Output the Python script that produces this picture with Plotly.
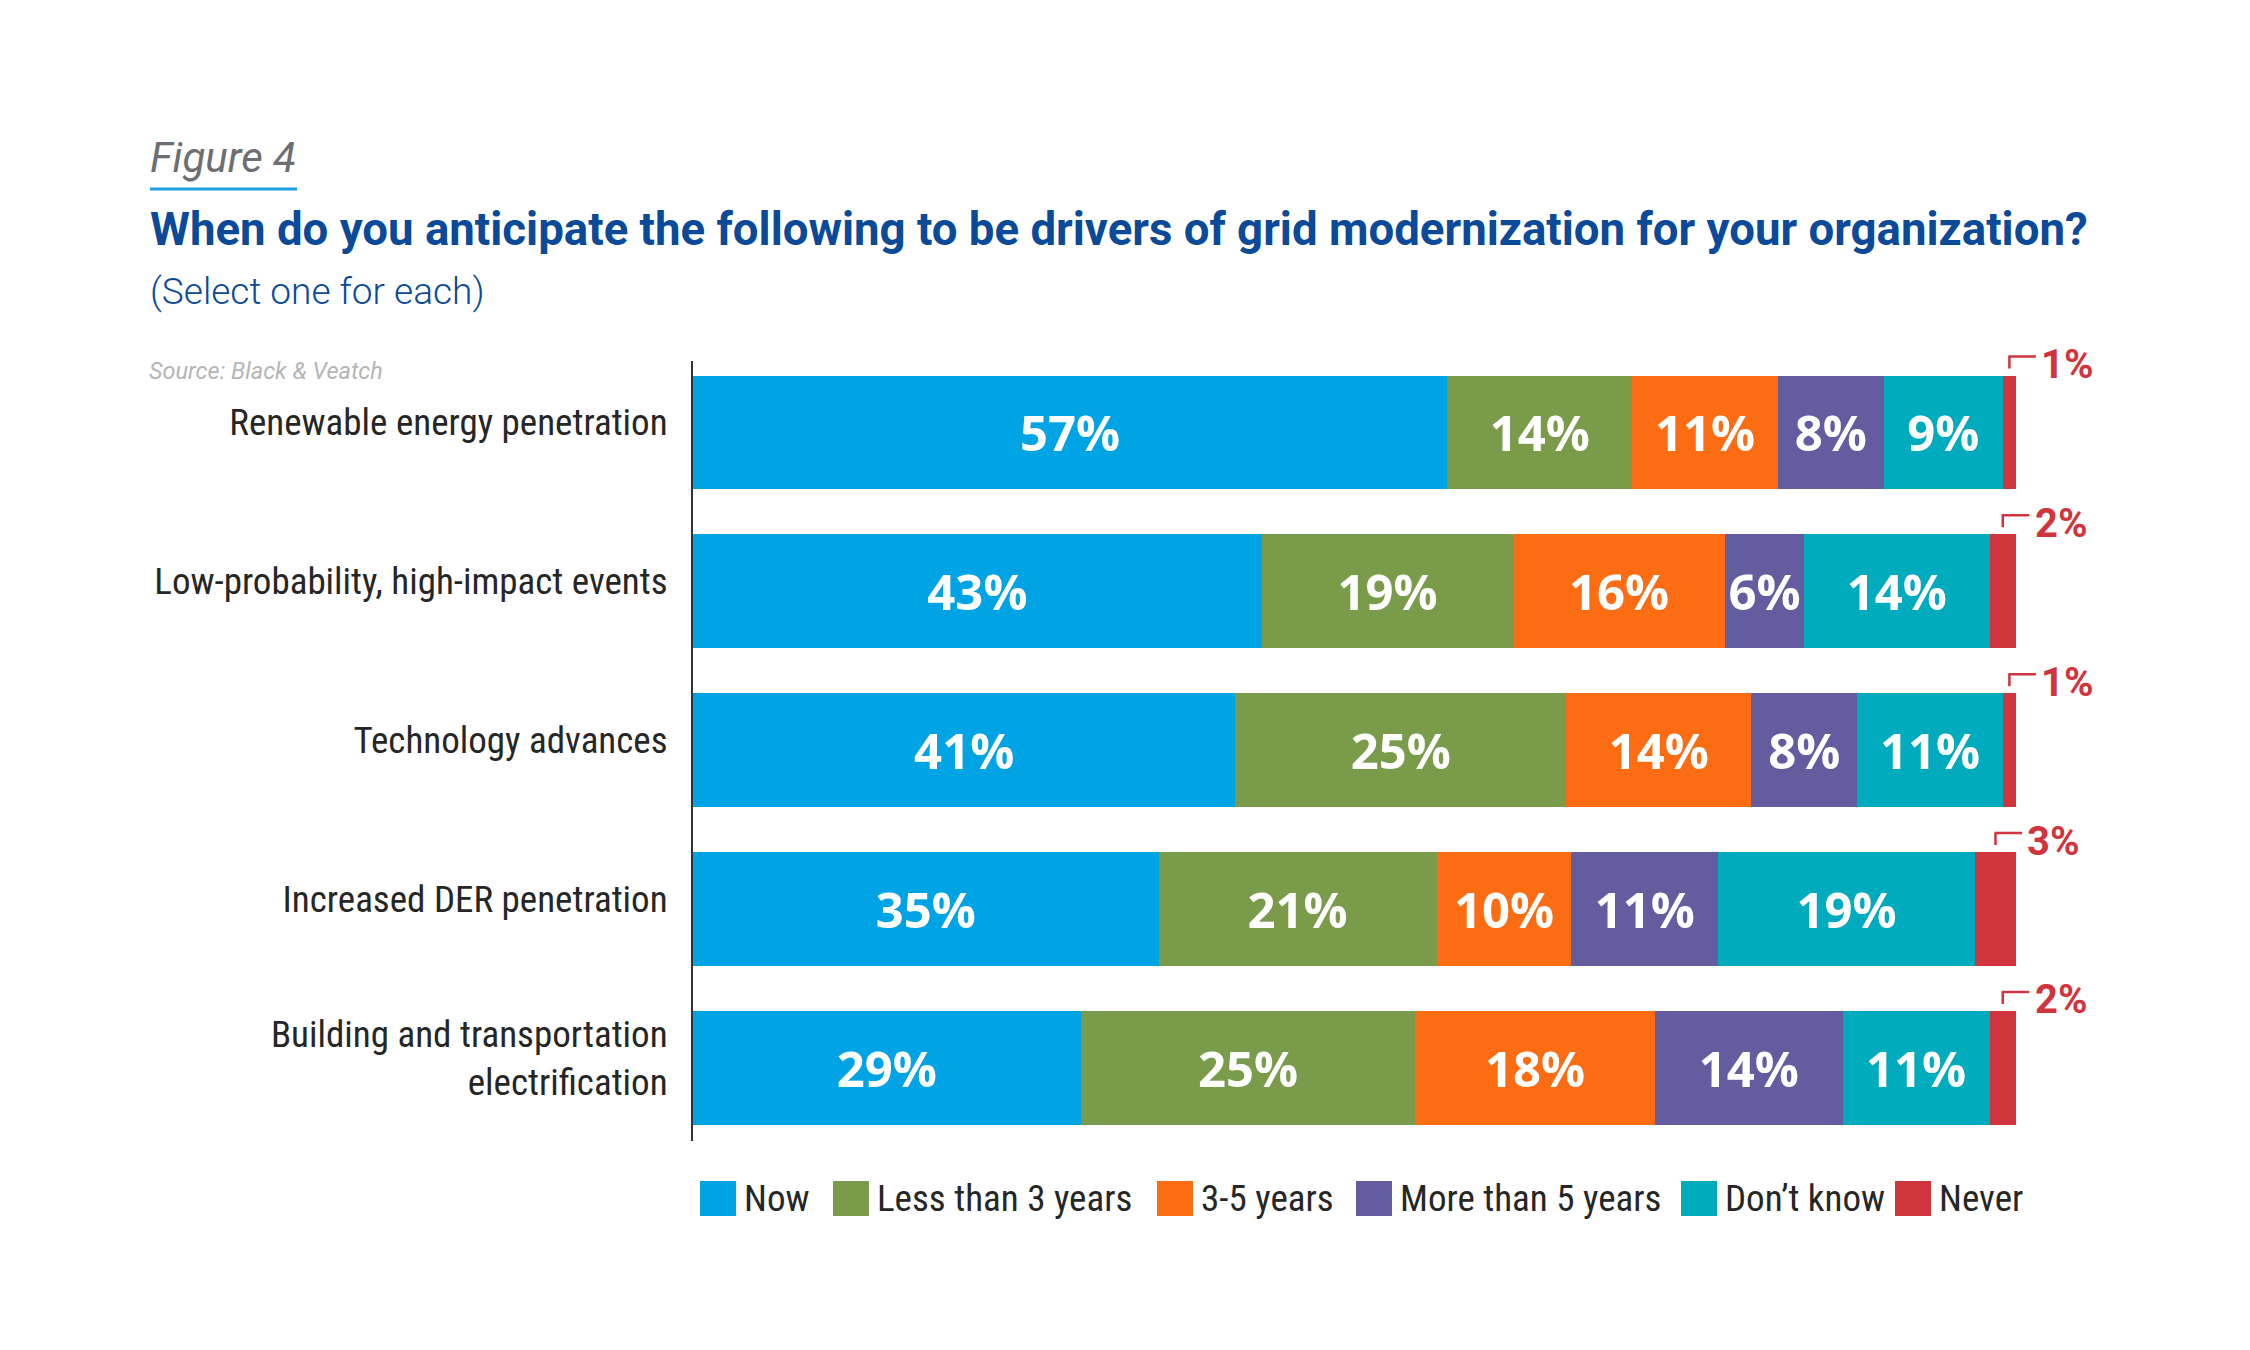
import plotly.graph_objects as go

# ---------------- data ----------------
categories = [
    "Renewable energy penetration",
    "Low-probability, high-impact events",
    "Technology advances",
    "Increased DER penetration",
    "Building and transportation<br>electrification",
]
series_names = ["Now", "Less than 3 years", "3-5 years", "More than 5 years", "Don\u2019t know", "Never"]
now_vals = [57, 43, 41, 35.2, 29.3]
lt3_vals = [14, 19, 25, 21.0, 25.3]
y35_vals = [11, 16, 14, 10.2, 18.1]
gt5_vals = [8, 6, 8, 11.1, 14.2]
dk_vals = [9, 14, 11, 19.4, 11.1]
never_vals = [1, 2, 1, 3.1, 2.0]

colors = ["#00a4e4", "#7a9c4a", "#fb6c13", "#635c9f", "#00abbd", "#d0343c"]

# ---------------- layout geometry ----------------
W, H = 2250, 1350
L, R, T, B = 693, 2016, 361, 1141


def px(x):
    return (x - L) / (R - L)


def py(y):
    return (B - y) / (B - T)


COND = "Liberation Sans Narrow, Roboto Condensed, Arial Narrow, sans-serif"
BLUE = "#0a4a98"
RED = colors[5]

fig = go.Figure()
all_vals = [now_vals, lt3_vals, y35_vals, gt5_vals, dk_vals, never_vals]
ypos = list(range(len(categories)))
for name, vals, col in zip(series_names, all_vals, colors):
    is_never = name == "Never"
    fig.add_trace(go.Bar(
        name=name, x=vals, y=ypos, orientation="h",
        marker=dict(color=col, line=dict(width=0)),
        texttemplate=None if is_never else "%{x:.0f}%",
        textposition="none" if is_never else "inside",
        insidetextanchor="middle", textangle=0,
        insidetextfont=dict(family="Open Sans", size=49, color="white", weight=700),
        showlegend=False, hoverinfo="skip",
    ))

shapes = []
annotations = []

# Never labels with small bracket (drawn with arrow-less annotation lines, not clipped)
for i, v in enumerate(never_vals):
    total = now_vals[i] + lt3_vals[i] + y35_vals[i] + gt5_vals[i] + dk_vals[i]
    xa = total + v / 2
    seg_common = dict(x=xa, y=i, xref="x", yref="y", text=" ", showarrow=True,
                      arrowhead=0, arrowwidth=2.5, arrowcolor=RED, standoff=0,
                      startstandoff=0, axref="pixel", ayref="pixel",
                      font=dict(size=1), borderpad=0)
    annotations.append(dict(seg_common, yshift=64, ax=0, ay=-13))
    annotations.append(dict(seg_common, yshift=76, ax=28, ay=0, xshift=-1))
    annotations.append(dict(
        x=xa, y=i, xref="x", yref="y", xanchor="left", yanchor="middle",
        xshift=30, yshift=68, showarrow=False, text=f"{round(v)}%",
        font=dict(family="Roboto", size=40, color=RED, weight=700),
    ))

# Titles
annotations += [
    dict(x=px(148), y=py(157), xref="paper", yref="paper", xanchor="left", yanchor="middle",
         showarrow=False, text="Figure 4",
         font=dict(family="Roboto", size=42, color="#6d6e71", style="italic", weight=400)),
    dict(x=px(148), y=py(230), xref="paper", yref="paper", xanchor="left", yanchor="middle",
         showarrow=False,
         text="When do you anticipate the following to be drivers of grid modernization for your organization?",
         font=dict(family="Roboto", size=45.6, color=BLUE, weight=700)),
    dict(x=px(148), y=py(291), xref="paper", yref="paper", xanchor="left", yanchor="middle",
         showarrow=False, text="(Select one for each)",
         font=dict(family="Roboto", size=37, color=BLUE, weight=300)),
    dict(x=px(147), y=py(371), xref="paper", yref="paper", xanchor="left", yanchor="middle",
         showarrow=False, text="Source: Black & Veatch",
         font=dict(family="Roboto", size=23.5, color="#b5b5b5", style="italic")),
]
shapes.append(dict(type="line", xref="paper", yref="paper", x0=px(150), x1=px(297),
                   y0=py(189), y1=py(189), line=dict(color="#1ba1dc", width=3)))

# Custom legend
swatch_x = [700, 833, 1157, 1356, 1681, 1895]
for sx, name, col in zip(swatch_x, series_names, colors):
    shapes.append(dict(type="rect", xref="paper", yref="paper",
                       x0=px(sx), x1=px(sx + 36), y0=py(1216), y1=py(1181),
                       fillcolor=col, line=dict(width=0)))
    annotations.append(dict(x=px(sx + 42), y=py(1198), xref="paper", yref="paper",
                            xanchor="left", yanchor="middle", showarrow=False, text=name,
                            font=dict(family=COND, size=37, color="#262626")))

fig.update_layout(
    width=W, height=H,
    margin=dict(l=L, r=W - R, t=T, b=H - B, pad=0),
    paper_bgcolor="white", plot_bgcolor="white",
    barmode="stack", bargap=0.283,
    xaxis=dict(range=[0, 100], visible=False, fixedrange=True),
    yaxis=dict(range=[4.46, -0.45], tickmode="array", tickvals=ypos, ticktext=categories,
               showline=True, linecolor="#333333", linewidth=2, ticks="",
               showgrid=False, zeroline=False, ticklabelstandoff=16, ticklabelshift=10,
               fixedrange=True,
               tickfont=dict(family=COND, size=37, color="#262626")),
    shapes=shapes, annotations=annotations,
    showlegend=False,
)

fig.write_html("out.html", config={"displayModeBar": False},
               post_script="document.body.style.margin='0px';")
